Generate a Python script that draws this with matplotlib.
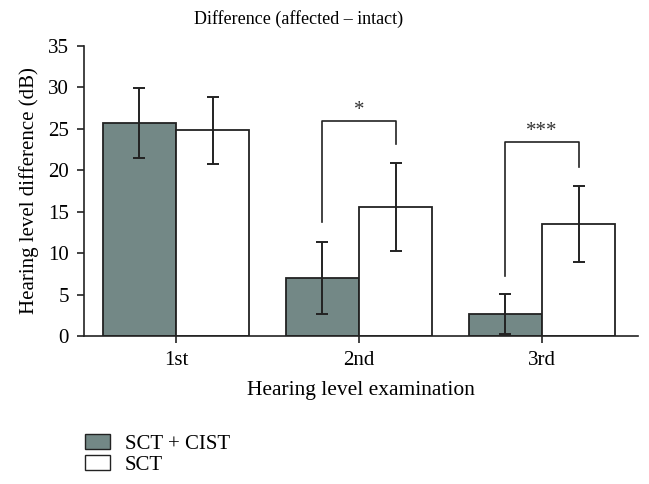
import matplotlib.pyplot as plt
import numpy as np
from matplotlib.patches import Patch

plt.rcParams['font.family'] = ['Liberation Serif', 'DejaVu Serif']

exams = ['1st', '2nd', '3rd']
cist_mean = [25.7, 7.0, 2.7]
cist_err = [4.2, 4.4, 2.4]
sct_mean = [24.8, 15.6, 13.5]
sct_err = [4.1, 5.3, 4.6]

# significance brackets: (group, top, left bottom, right bottom, label)
brackets = [(1, 26.0, 13.8, 23.2, '*'), (2, 23.4, 7.2, 20.4, '***')]

gray = '#738886'
fig = plt.figure(figsize=(6.49, 4.84), dpi=100)
ax = fig.add_axes([0.1294, 0.3058, 0.8536, 0.5992])

x = np.arange(len(exams))
w = 0.4
ax.bar(x - w / 2, cist_mean, w, color=gray, edgecolor='#222222', linewidth=1.3)
ax.bar(x + w / 2, sct_mean, w, color='white', edgecolor='#222222', linewidth=1.3)
ax.errorbar(x - w / 2, cist_mean, yerr=cist_err, fmt='none', ecolor='#222222',
            elinewidth=1.4, capsize=4, capthick=1.4)
ax.errorbar(x + w / 2, sct_mean, yerr=sct_err, fmt='none', ecolor='#222222',
            elinewidth=1.4, capsize=4, capthick=1.4)

for g, top, lb, rb, lab in brackets:
    xl, xr = g - w / 2, g + w / 2
    ax.plot([xl, xl, xr, xr], [lb, top, top, rb], color='#222222', lw=1.2)
    ax.text(g, top + 0.1, lab, ha='center', va='bottom', fontsize=15, color='#333333')

ax.set_xlim(-0.503, 2.525)
ax.set_ylim(0, 35)
ax.set_yticks(range(0, 36, 5))
ax.set_xticks(x)
ax.set_xticklabels(exams)
ax.spines['top'].set_visible(False)
ax.spines['right'].set_visible(False)
for s in ['left', 'bottom']:
    ax.spines[s].set_linewidth(1.2)
    ax.spines[s].set_color('#222222')
ax.tick_params(axis='both', labelsize=15, width=1.2, length=5, color='#222222')
ax.tick_params(axis='x', pad=6)
ax.tick_params(axis='y', pad=6)
ax.set_ylabel('Hearing level difference (dB)', fontsize=15, labelpad=6)
ax.set_xlabel('Hearing level examination', fontsize=15.5, labelpad=8)

fig.text(0.46, 0.96, 'Difference (affected \u2013 intact)', ha='center', va='center', fontsize=13)

handles = [Patch(facecolor=gray, edgecolor='#222222', label='SCT + CIST'),
           Patch(facecolor='white', edgecolor='#222222', label='SCT')]
fig.legend(handles=handles, loc='lower left', bbox_to_anchor=(0.131, 0.019),
           frameon=False, fontsize=15, handlelength=1.2, handleheight=0.72,
           labelspacing=0.06, handletextpad=0.7, borderpad=0, borderaxespad=0)

fig.savefig('out.png', dpi=100)
